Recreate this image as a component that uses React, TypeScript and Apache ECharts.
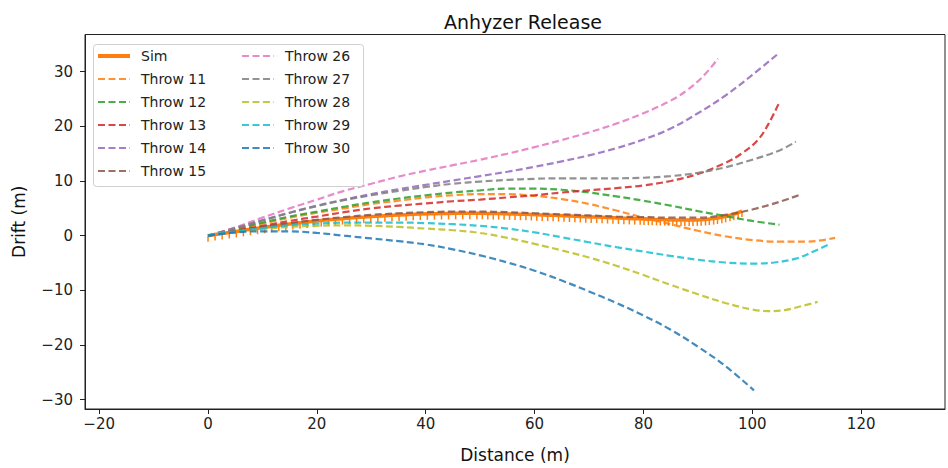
import React, { useEffect, useRef } from "react";
import * as echarts from "echarts";

const xTicks = [-20, 0, 20, 40, 60, 80, 100, 120];
const yTicks = [-30, -20, -10, 0, 10, 20, 30];

const simX = [
  0, 1.3, 2.6, 3.9, 5.2, 6.5, 7.8, 9.1, 10.4, 11.7, 13.0, 14.3, 15.6, 16.9, 18.2, 19.5,
  20.8, 22.1, 23.4, 24.7, 26.0, 27.3, 28.6, 29.9, 31.2, 32.5, 33.8, 35.1, 36.4, 37.7,
  39.0, 40.3, 41.6, 42.9, 44.2, 45.5, 46.8, 48.1, 49.4,
  50.4, 51.4, 52.4, 53.4, 54.4, 55.4, 56.4, 57.4, 58.4, 59.4, 60.4, 61.4, 62.4, 63.4,
  64.4, 65.4, 66.4, 67.4, 68.4, 69.4, 70.4, 71.4, 72.4, 73.4, 74.4, 75.4, 76.4, 77.4,
  78.4, 79.4,
  80.1, 80.9, 81.6, 82.4, 83.1, 83.9, 84.6, 85.4, 86.1, 86.9, 87.6, 88.4, 89.1, 89.9,
  90.6, 91.4, 92.1, 92.9, 93.6, 94.4, 95.1, 95.9, 96.6, 97.4, 98.1,
];
const simY = [
  0, 0.2, 0.4, 0.6, 0.78, 0.98, 1.18, 1.37, 1.55, 1.72, 1.89, 2.06, 2.22, 2.36, 2.5, 2.65,
  2.78, 2.9, 3.01, 3.12, 3.22, 3.31, 3.4, 3.5, 3.57, 3.65, 3.73, 3.8, 3.85, 3.9,
  3.96, 4.0, 4.03, 4.06, 4.08, 4.1, 4.1, 4.1, 4.1,
  4.1, 4.08, 4.06, 4.04, 4.02, 3.99, 3.96, 3.93, 3.9, 3.87, 3.84, 3.8, 3.76, 3.72,
  3.68, 3.64, 3.6, 3.56, 3.52, 3.48, 3.44, 3.4, 3.36, 3.32, 3.28, 3.24, 3.2, 3.16,
  3.12, 3.08,
  3.05, 3.03, 3.0, 2.98, 2.96, 2.93, 2.91, 2.89, 2.88, 2.87, 2.86, 2.86, 2.87, 2.89,
  2.92, 2.97, 3.04, 3.13, 3.24, 3.38, 3.54, 3.73, 3.93, 4.2, 4.5,
];

const throw11 = [[0,0],[5,1.1],[10,2.2],[15,3.3],[20,4.2],[25,5.0],[30,5.8],[35,6.4],[40,7.0],[45,7.4],[50,7.6],[55,7.6],[60,7.3],[65,6.7],[70,5.8],[75,4.6],[80,3.3],[85,2.1],[90,0.9],[95,-0.1],[100,-0.8],[105,-1.1],[110,-1.1],[113,-0.8],[115.2,-0.4]];
const throw12 = [[0,0],[5,1.2],[10,2.4],[15,3.5],[20,4.4],[25,5.3],[30,6.1],[35,6.8],[40,7.4],[45,7.9],[50,8.3],[55,8.6],[60,8.6],[65,8.4],[70,7.9],[75,7.2],[80,6.4],[85,5.5],[90,4.5],[95,3.6],[100,2.7],[105,2.0]];
const throw13 = [[0,0],[5,0.9],[10,1.8],[15,2.7],[20,3.5],[25,4.3],[30,5.0],[35,5.5],[40,5.9],[45,6.3],[50,6.6],[55,7.0],[60,7.4],[65,7.9],[70,8.3],[75,8.7],[80,9.2],[85,10.0],[90,11.3],[95,13.3],[98,15.0],[101,17.5],[103,20.5],[105,24.5]];
const throw14 = [[0,0],[5,1.4],[10,2.8],[15,4.2],[20,5.5],[25,6.6],[30,7.6],[35,8.5],[40,9.3],[45,10.1],[50,10.9],[55,11.7],[60,12.6],[65,13.6],[70,14.7],[75,16.0],[80,17.6],[85,19.6],[90,22.4],[95,25.6],[100,29.4],[105,33.5]];
const throw15 = [[0,0],[5,0.8],[10,1.6],[15,2.3],[20,2.9],[25,3.4],[30,3.8],[35,4.1],[40,4.3],[45,4.4],[50,4.4],[55,4.3],[60,4.1],[65,3.9],[70,3.7],[75,3.5],[80,3.4],[85,3.3],[90,3.3],[95,3.8],[100,4.8],[105,6.2],[108.5,7.4]];
const throw26 = [[0,0],[5,1.5],[10,3.3],[15,5.0],[20,6.6],[25,8.2],[30,9.5],[35,10.8],[40,11.9],[45,12.9],[50,13.9],[55,15.0],[60,16.2],[65,17.5],[70,18.9],[75,20.5],[80,22.4],[85,24.7],[88,26.6],[91,29.2],[93.7,32.4]];
const throw27 = [[0,0],[5,1.4],[10,2.8],[15,4.2],[20,5.4],[25,6.5],[30,7.4],[35,8.2],[40,8.9],[45,9.5],[50,9.9],[55,10.2],[60,10.4],[65,10.5],[70,10.5],[75,10.5],[80,10.6],[85,10.9],[90,11.5],[95,12.5],[100,13.9],[105,15.6],[108,17.2]];
const throw28 = [[0,0],[5,0.7],[10,1.2],[15,1.6],[20,1.8],[25,1.9],[30,1.8],[35,1.6],[40,1.3],[45,1.0],[50,0.5],[55,-0.4],[60,-1.5],[65,-2.7],[70,-4.0],[75,-5.5],[80,-7.2],[85,-9.0],[90,-10.7],[95,-12.3],[100,-13.5],[103,-13.8],[106,-13.6],[109,-12.9],[112,-12.1]];
const throw29 = [[0,0],[5,0.8],[10,1.4],[15,1.9],[20,2.2],[25,2.4],[30,2.4],[35,2.4],[40,2.3],[45,2.1],[50,1.8],[55,1.3],[60,0.6],[65,-0.3],[70,-1.2],[75,-2.1],[80,-2.9],[85,-3.7],[90,-4.4],[95,-4.9],[100,-5.1],[104,-4.9],[108,-4.2],[111,-3.0],[114,-1.6]];
const throw30 = [[0,0],[5,0.6],[10,0.8],[15,0.8],[20,0.5],[25,0],[30,-0.5],[35,-1.0],[40,-1.6],[45,-2.5],[50,-3.6],[55,-4.9],[60,-6.4],[65,-8.2],[70,-10.2],[75,-12.3],[80,-14.6],[85,-17.2],[90,-20.3],[95,-23.8],[100.3,-28.3]];

const throwNames = ["Throw 11", "Throw 12", "Throw 13", "Throw 14", "Throw 15", "Throw 26", "Throw 27", "Throw 28", "Throw 29", "Throw 30"];
const throwData = [throw11, throw12, throw13, throw14, throw15, throw26, throw27, throw28, throw29, throw30];
const throwColors = ["#ff7f0e", "#2ca02c", "#d62728", "#9467bd", "#8c564b", "#e377c2", "#7f7f7f", "#bcbd22", "#17becf", "#1f77b4"];

const FONT = "DejaVu Sans";
const fmt = (v: number) => String(v).replace("-", "\u2212");

export default function App() {
  const ref = useRef<HTMLDivElement>(null);
  useEffect(() => {
    if (!ref.current) return;
    const chart = echarts.init(ref.current, null, { renderer: "svg" });
    const simData = simX.map((x, i) => [x, simY[i]]);
    const series: any[] = [
      {
        name: "Sim",
        type: "line",
        data: simData,
        showSymbol: true,
        showAllSymbol: true,
        symbol: "path://M0,0L1,0L1,1L0,1Z",
        symbolSize: [1.5, 6],
        symbolOffset: [0, 3],
        itemStyle: { color: "#ff7f0e" },
        lineStyle: { color: "#ff7f0e", width: 3.5 },
        z: 2,
      },
      ...throwNames.map((n, i) => ({
        name: n,
        type: "line",
        data: throwData[i],
        symbol: "none",
        smooth: 0.4,
        itemStyle: { color: throwColors[i] },
        lineStyle: { color: throwColors[i], width: 2.2, type: [7, 3.5], opacity: 0.85 },
        z: 3,
      })),
    ];
    const hideSym = (n: string) => ({ name: n, itemStyle: { opacity: 0 } });
    const legendCommon = {
      orient: "vertical",
      top: 49,
      itemWidth: 32,
      itemHeight: 14,
      itemGap: 9,
      padding: 0,
      textStyle: { fontSize: 14, fontFamily: FONT, color: "#222", padding: [0, 0, 0, 6] },
      z: 5,
    };
    chart.setOption({
      animation: false,
      backgroundColor: "#fff",
      title: {
        text: "Anhyzer Release",
        left: 518,
        top: 7,
        textAlign: "center",
        textStyle: { fontSize: 19, fontWeight: "normal", fontFamily: FONT, color: "#111" },
      },
      grid: {
        left: 85,
        right: 3,
        top: 34.5,
        bottom: 58.5,
        show: true,
        borderColor: "#222",
        borderWidth: 1,
        backgroundColor: "transparent",
      },
      graphic: [
        {
          type: "rect",
          shape: { x: 93.5, y: 44.5, width: 270, height: 142, r: 3 },
          style: { fill: "rgba(255,255,255,0.85)", stroke: "#d0d0d0", lineWidth: 1 },
          z: 4,
        },
      ],
      legend: [
        {
          ...legendCommon,
          left: 96,
          data: [
            { name: "Sim", itemStyle: { opacity: 0 }, lineStyle: { width: 4 } },
            ...throwNames.slice(0, 5).map(hideSym),
          ],
        },
        { ...legendCommon, left: 241, data: throwNames.slice(5).map(hideSym) },
      ],
      xAxis: {
        type: "value",
        min: -22.6,
        max: 135.4,
        name: "Distance (m)",
        nameLocation: "middle",
        nameGap: 37,
        nameTextStyle: { fontSize: 17, fontFamily: FONT, color: "#111" },
        splitLine: { show: false },
        axisLine: { show: true, onZero: false, lineStyle: { color: "#222", width: 1 } },
        axisTick: { show: true, length: 5, lineStyle: { color: "#222" }, customValues: xTicks },
        axisLabel: {
          customValues: xTicks,
          formatter: fmt,
          fontSize: 15,
          fontFamily: FONT,
          color: "#222",
          margin: 7,
        },
      },
      yAxis: {
        type: "value",
        min: -31.7,
        max: 36.8,
        name: "Drift (m)",
        nameLocation: "middle",
        nameGap: 58,
        nameTextStyle: { fontSize: 17, fontFamily: FONT, color: "#111" },
        splitLine: { show: false },
        axisLine: { show: true, onZero: false, lineStyle: { color: "#222", width: 1 } },
        axisTick: { show: true, length: 5, lineStyle: { color: "#222" }, customValues: yTicks },
        axisLabel: {
          customValues: yTicks,
          formatter: fmt,
          fontSize: 15,
          fontFamily: FONT,
          color: "#222",
          margin: 12,
        },
      },
      series,
    });
    return () => chart.dispose();
  }, []);
  return (
    <div
      ref={ref}
      style={{ position: "fixed", left: 0, top: 0, width: 948, height: 468 }}
    />
  );
}
